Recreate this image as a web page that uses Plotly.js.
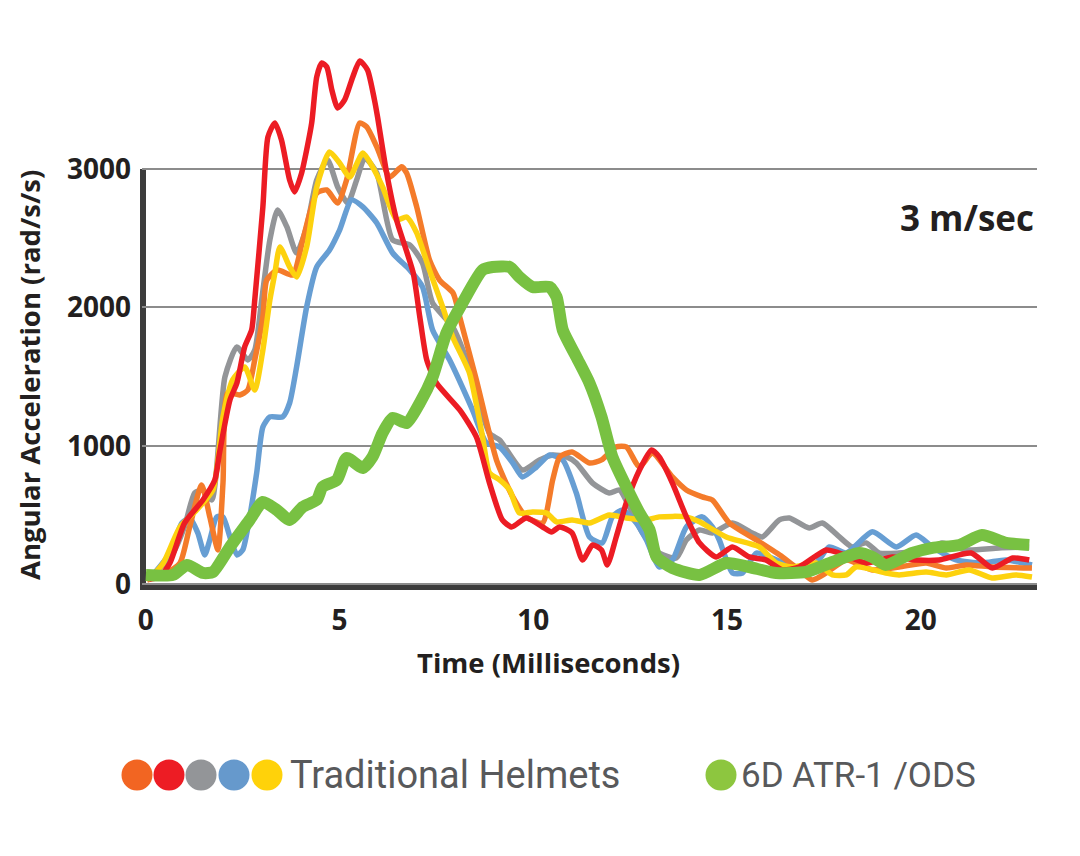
<!DOCTYPE html>
<html>
<head>
<meta charset="utf-8">
<script src="https://cdn.plot.ly/plotly-3.0.1.min.js"></script>
<style>
  html, body { margin: 0; padding: 0; background: #ffffff; }
  #chart { width: 1080px; height: 856px; }
</style>
</head>
<body>
<div id="chart"></div>
<script>
// ---- Data (time in ms, angular acceleration in rad/s/s) ----
const orangeTime = [0.03,0.5,0.88,1.13,1.44,1.65,1.86,1.99,2.11,2.42,2.63,2.81,3.02,3.12,3.4,3.79,4.05,4.41,4.67,4.95,5.18,5.52,5.7,5.96,6.3,6.6,6.73,6.99,7.32,7.58,7.93,8.1,8.53,9.05,9.47,9.82,10.24,10.5,10.68,11.0,11.45,11.76,12.14,12.4,12.74,13.07,13.59,13.95,14.36,14.62,15.06,15.76,16.43,16.86,17.2,17.56,18.08,18.75,19.44,20.14,20.66,21.17,21.84,22.87];
const orangeAcc  = [32,80,155,415,718,488,249,732,1382,1368,1404,1621,1931,2198,2270,2234,2487,2826,2848,2754,2920,3332,3303,3159,2942,3015,2971,2726,2343,2198,2104,1931,1476,898,632,488,444,755,921,957,877,899,993,993,848,949,776,682,632,610,444,321,199,105,32,83,177,105,126,155,119,141,126,119];

const redTime = [0.1,0.36,0.62,1.0,1.47,1.78,1.9,2.17,2.35,2.55,2.73,2.81,3.02,3.15,3.33,3.5,3.71,3.84,4.02,4.15,4.28,4.41,4.54,4.67,4.8,4.95,5.13,5.34,5.52,5.72,5.9,5.98,6.2,6.47,6.9,7.07,7.25,7.5,8.1,8.53,8.87,9.2,9.44,9.82,10.24,10.47,10.68,11.0,11.27,11.53,11.76,11.91,12.14,12.4,12.74,13.05,13.25,13.59,13.95,14.29,14.72,15.14,15.57,16.0,16.43,16.86,17.56,17.9,18.6,19.27,19.88,20.47,21.3,21.85,22.37,22.8];
const redAcc  = [40,54,155,444,610,755,950,1332,1455,1715,1837,2054,2726,3231,3332,3209,2920,2834,2971,3137,3332,3664,3765,3736,3570,3440,3498,3664,3780,3715,3498,3375,2993,2632,2249,1931,1620,1454,1260,1065,732,466,415,480,415,379,415,372,177,285,249,141,343,588,826,971,921,732,488,300,199,271,199,177,105,126,249,227,155,199,177,177,227,119,191,177];

const grayTime = [0.1,0.7,1.0,1.26,1.47,1.7,2.04,2.35,2.63,2.81,2.99,3.2,3.4,3.64,3.89,4.15,4.41,4.69,4.95,5.21,5.44,5.65,5.96,6.37,6.81,7.14,7.4,7.92,8.28,8.87,9.13,9.72,10.16,10.5,10.86,11.11,11.53,11.96,12.22,12.48,12.82,13.25,13.69,13.95,14.29,14.62,15.14,15.65,15.91,16.35,16.61,17.12,17.46,17.9,18.23,18.59,18.93,19.44,20.14,20.55,21.17,22.02,22.8];
const grayAcc  = [40,227,420,661,682,610,1498,1715,1621,1693,2054,2487,2704,2581,2393,2581,2920,3065,2870,2754,2920,3080,2971,2487,2451,2321,2032,1859,1620,1090,1043,826,899,935,921,877,732,660,682,560,372,227,191,321,393,372,444,372,343,466,480,408,444,343,271,300,227,227,249,300,249,264,271];

const blueTime = [0.18,0.62,0.93,1.13,1.34,1.52,1.65,1.83,1.99,2.17,2.35,2.5,2.68,2.86,3.02,3.2,3.53,3.71,3.89,4.15,4.41,4.74,5.0,5.31,5.6,5.96,6.37,6.81,7.14,7.4,7.84,8.43,8.79,9.13,9.47,9.72,10.08,10.42,10.76,11.11,11.45,11.78,12.04,12.3,12.66,12.92,13.25,13.59,13.95,14.36,14.62,14.8,15.14,15.4,15.76,16.27,16.79,17.3,17.64,18.08,18.75,19.37,19.88,20.3,20.91,21.58,22.2,22.87];
const blueAcc  = [69,227,444,480,372,213,321,488,488,343,213,249,488,805,1137,1210,1210,1310,1570,2004,2293,2415,2559,2776,2726,2610,2393,2271,2148,1837,1620,1260,1022,993,877,776,848,935,899,660,343,300,488,538,444,321,126,177,415,488,415,321,83,83,227,177,126,155,271,227,380,271,357,271,177,155,177,141];

const yellowTime = [0.1,0.45,0.88,1.31,1.73,1.99,2.24,2.55,2.81,3.02,3.2,3.33,3.46,3.71,3.89,4.15,4.41,4.74,5.0,5.26,5.6,5.85,6.11,6.47,6.73,6.99,7.32,7.66,7.92,8.35,8.69,8.87,9.13,9.39,9.64,9.98,10.34,10.6,11.0,11.45,11.96,12.4,12.92,13.25,13.95,14.29,14.98,15.83,16.27,16.69,17.3,17.72,18.08,18.33,19.1,19.44,20.14,20.66,21.25,21.84,22.46,22.87];
const yellowAcc  = [40,155,415,538,682,1210,1477,1570,1404,1693,2054,2249,2437,2293,2220,2437,2870,3123,3043,2942,3115,3015,2870,2632,2653,2538,2270,2004,1787,1527,1065,805,755,682,516,524,516,452,466,444,502,480,466,488,488,452,343,271,155,126,155,69,69,126,83,69,90,69,105,47,69,54];

const greenTime = [0,0.7,1.06,1.47,1.73,2.17,2.68,3.02,3.38,3.71,4.05,4.41,4.56,4.93,5.18,5.6,5.85,6.11,6.37,6.73,7.07,7.4,7.76,8.17,8.69,8.95,9.39,9.64,9.98,10.42,10.6,10.76,11.11,11.45,11.76,12.04,12.4,12.74,13.0,13.18,13.59,14.29,14.98,15.57,16.27,17.04,17.72,18.41,18.75,19.1,19.78,20.3,21.0,21.58,22.2,22.8];
const greenAcc  = [69,69,141,83,90,271,466,596,538,466,560,610,704,755,913,841,921,1094,1202,1166,1310,1498,1816,2032,2271,2292,2292,2220,2148,2148,2076,1837,1643,1454,1210,921,704,516,394,199,119,69,155,126,83,90,162,227,199,141,227,264,285,357,300,285];

const xTickVals = [0, 5, 10, 15, 20];
const yTickVals = [0, 1000, 2000, 3000];
const legendTraditional = "Traditional Helmets";
const legendSixD = "6D ATR-1 /ODS";
const speedLabel = "3 m/sec";
const xTitle = "Time (Milliseconds)";
const yTitle = "Angular Acceleration (rad/s/s)";

// ---- Styling ----
const COLORS = {
  orange: "#f47b2a", red: "#ec1c24", gray: "#939598",
  blue: "#679ed3", yellow: "#fdd20e", green: "#78c142"
};
const LEG = {
  orange: "#f26522", red: "#ed1c24", gray: "#939598",
  blue: "#6699cc", yellow: "#ffd20a", green: "#8dc63f"
};

function line(x, y, color, width) {
  return { x: x, y: y, type: "scatter", mode: "lines",
    line: { color: color, width: width, shape: "spline", smoothing: 0.6 },
    hoverinfo: "skip", showlegend: false };
}

const traces = [
  line(grayTime, grayAcc, COLORS.gray, 5.5),
  line(blueTime, blueAcc, COLORS.blue, 5.5),
  line(orangeTime, orangeAcc, COLORS.orange, 5.5),
  line(yellowTime, yellowAcc, COLORS.yellow, 5.5),
  line(redTime, redAcc, COLORS.red, 5.5),
  line(greenTime, greenAcc, COLORS.green, 12)
];

// plot area geometry (px)
const W = 1080, H = 856;
const M = { l: 142, r: 43, t: 44, b: 266 };
const pw = W - M.l - M.r, ph = H - M.t - M.b;
const px2paperX = p => (p - M.l) / pw;
const px2paperY = p => (H - M.b - p) / ph;

const shapes = [
  // left axis bar (0..3000)
  { type: "line", xref: "paper", yref: "y", x0: px2paperX(143), x1: px2paperX(143), y0: -40, y1: 3000,
    line: { color: "#3c3c3c", width: 6 }, layer: "below" },
  // bottom axis bar
  { type: "line", xref: "paper", yref: "paper", x0: px2paperX(140), x1: 1, y0: px2paperY(587), y1: px2paperY(587),
    line: { color: "#3c3c3c", width: 6 }, layer: "below" }
];

// legend circles
const legCircles = [
  [137, LEG.orange], [169, LEG.red], [201, LEG.gray], [234, LEG.blue], [267, LEG.yellow], [721, LEG.green]
];
const cy = 775, r = 15.5;
legCircles.forEach(([cx, col]) => {
  shapes.push({ type: "circle", xref: "paper", yref: "paper",
    x0: px2paperX(cx - r), x1: px2paperX(cx + r), y0: px2paperY(cy + r), y1: px2paperY(cy - r),
    fillcolor: col, line: { width: 0 } });
});

const boldFont = { family: "'Open Sans', sans-serif", size: 28, color: "#231f20", weight: 700 };

const annotations = [
  { text: "<b>" + yTitle + "</b>", xref: "paper", yref: "paper",
    x: px2paperX(29), y: px2paperY(375), textangle: -90, showarrow: false,
    xanchor: "center", yanchor: "middle",
    font: { family: "'Open Sans', sans-serif", size: 27.5, color: "#231f20" } },
  { text: "<b>" + xTitle + "</b>", xref: "paper", yref: "paper",
    x: px2paperX(548), y: px2paperY(662), showarrow: false,
    xanchor: "center", yanchor: "middle",
    font: { family: "'Open Sans', sans-serif", size: 27.5, color: "#231f20" } },
  { text: "<b>" + speedLabel + "</b>", xref: "paper", yref: "paper",
    x: px2paperX(1036), y: px2paperY(217), showarrow: false,
    xanchor: "right", yanchor: "middle",
    font: { family: "'Open Sans', sans-serif", size: 35, color: "#231f20" } },
  { text: legendTraditional, xref: "paper", yref: "paper",
    x: px2paperX(288), y: px2paperY(775), showarrow: false,
    xanchor: "left", yanchor: "middle",
    font: { family: "Roboto, sans-serif", size: 38, color: "#58595b" } },
  { text: legendSixD, xref: "paper", yref: "paper",
    x: px2paperX(739), y: px2paperY(775), showarrow: false,
    xanchor: "left", yanchor: "middle",
    font: { family: "Roboto, sans-serif", size: 35, color: "#58595b" } }
];

const layout = {
  width: W, height: H,
  margin: M,
  paper_bgcolor: "#ffffff", plot_bgcolor: "#ffffff",
  showlegend: false,
  xaxis: {
    range: [-0.1, 23], tickvals: xTickVals, ticktext: xTickVals.map(String),
    showgrid: false, zeroline: false, showline: false, ticks: "",
    tickfont: boldFont, ticklabelstandoff: 11, fixedrange: true
  },
  yaxis: {
    range: [-40, 3902], tickvals: yTickVals, ticktext: yTickVals.map(String),
    showgrid: true, gridcolor: "#8c8c8c", gridwidth: 2,
    zeroline: false, showline: false, ticks: "",
    tickfont: boldFont, ticklabelstandoff: 10, fixedrange: true
  },
  shapes: shapes,
  annotations: annotations
};

Plotly.newPlot("chart", traces, layout, { staticPlot: true, displayModeBar: false });
</script>
</body>
</html>
